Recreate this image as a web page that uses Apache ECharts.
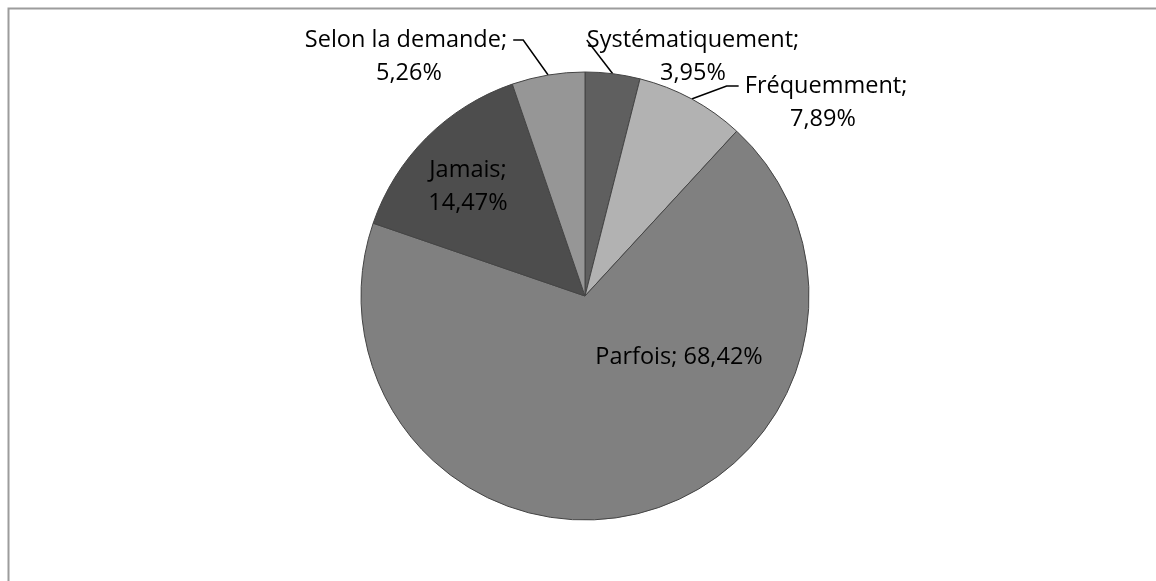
<!DOCTYPE html>
<html>
<head>
<meta charset="utf-8">
<script src="https://cdn.jsdelivr.net/npm/echarts@6/dist/echarts.min.js"></script>
<style>
html, body { margin: 0; padding: 0; background: #fff; }
#chart { width: 1156px; height: 581px; }
</style>
</head>
<body>
<div id="chart"></div>
<script>
// categories and values (percent), clockwise from 12 o'clock
const categories = ['Systématiquement', 'Fréquemment', 'Parfois', 'Jamais', 'Selon la demande'];
const values = [3.95, 7.89, 68.42, 14.47, 5.26];
const colors = ['#5f5f5f', '#b2b2b2', '#808080', '#4d4d4d', '#969696'];
const insideLabel = [false, false, true, true, false];
// label anchor (outside labels: centre of first line; inside: centre of block)
const labelPos = [[693, 40], [823, 86], [679, 357], [468, 187], [409, 40]];
const lineTail = [0, 12, 0, 0, 10];
// small gap between leader line and text
const namePad = [['', ''], [' ', ''], ['', ''], ['', ''], ['', ' ']];

const chart = echarts.init(document.getElementById('chart'));

const data = categories.map((name, i) => ({
  name: name,
  value: values[i],
  itemStyle: { color: colors[i] },
  label: { position: insideLabel[i] ? 'inside' : 'outside' },
  labelLine: { show: !insideLabel[i], length: 20, length2: lineTail[i] }
}));

function fmt(p) {
  const i = p.dataIndex;
  const v = p.value.toFixed(2).replace('.', ',') + '%';
  if (p.name === 'Parfois') return p.name + '; ' + v;
  if (insideLabel[i]) return p.name + ';\n' + v;
  // blank first line keeps the leader line on the name line
  return ' \n' + namePad[i][0] + p.name + ';' + namePad[i][1] + '\n' + v;
}

chart.setOption({
  animation: false,
  graphic: [{
    type: 'rect',
    shape: { x: 8.5, y: 8.5, width: 1300, height: 700 },
    style: { fill: 'none', stroke: '#9c9c9c', lineWidth: 2 },
    silent: true
  }],
  series: [{
    type: 'pie',
    center: [585, 296],
    radius: 224,
    startAngle: 90,
    clockwise: true,
    avoidLabelOverlap: false,
    data: data,
    itemStyle: { borderColor: '#444', borderWidth: 1 },
    label: {
      color: '#000',
      fontFamily: 'Open Sans',
      fontSize: 23.5,
      lineHeight: 33,
      align: 'center',
      formatter: fmt
    },
    labelLine: {
      show: true,
      minTurnAngle: 0,
      lineStyle: { color: '#000', width: 1.5 }
    },
    labelLayout: p => ({
      x: labelPos[p.dataIndex][0],
      y: labelPos[p.dataIndex][1],
      align: 'center',
      verticalAlign: 'middle'
    })
  }]
});
</script>
</body>
</html>
